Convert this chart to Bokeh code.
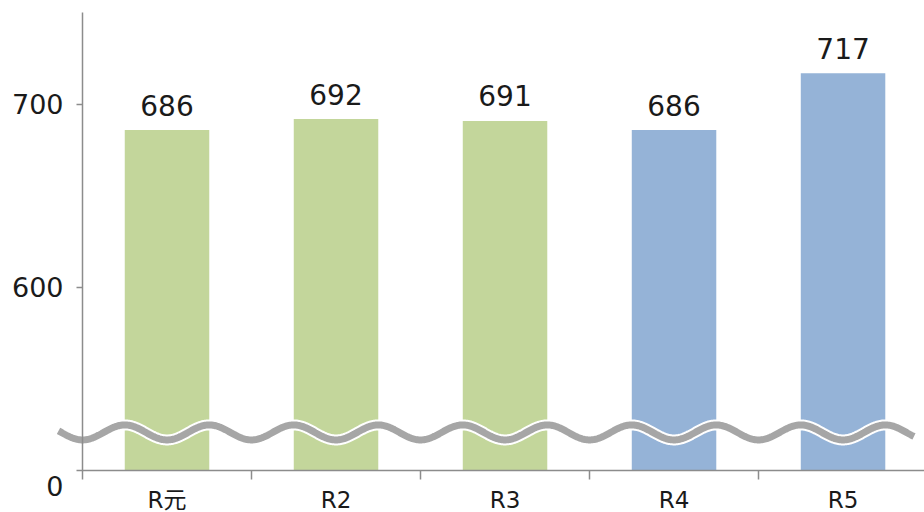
import numpy as np
from bokeh.plotting import figure
from bokeh.models import Range1d, FixedTicker, ColumnDataSource, LinearAxis
from bokeh.core.properties import value
from bokeh.embed import file_html
from bokeh.resources import INLINE

# ---- data ----
categories = ["R元", "R2", "R3", "R4", "R5"]
values = [686, 692, 691, 686, 717]
bar_colors = ["#c3d69b", "#c3d69b", "#c3d69b", "#95b3d7", "#95b3d7"]
y_ticks = [600, 700]
y_tick_labels = ["600", "700"]
axis_floor = 500          # the broken axis starts here; it is labelled "0"
axis_floor_label = "0"
y_axis_top = 750

centers = [i + 0.5 for i in range(len(categories))]
boundaries = list(range(len(categories) + 1))

FONT = "'DejaVu Sans', 'Noto Sans CJK JP', sans-serif"
AXIS_COLOR = "#8c8c8c"
TEXT_COLOR = "#1a1a1a"

# frame covers (almost) the whole canvas; axes sit at fixed data locations
p = figure(width=924, height=512, output_backend="svg", toolbar_location=None,
           x_range=Range1d(-0.4379, 4.982), y_range=Range1d(477.05, 756.8),
           x_axis_location=None, y_axis_location=None,
           min_border_left=8, min_border_right=0, min_border_top=0,
           min_border_bottom=0)
p.outline_line_color = None
p.xgrid.visible = False
p.ygrid.visible = False

# ---- x axis at y = axis_floor: ticks at category boundaries ----
xa = LinearAxis(fixed_location=axis_floor,
                ticker=FixedTicker(ticks=boundaries, minor_ticks=[]))
xa.major_label_text_font_size = "0px"
xa.major_label_text_color = None
xa.major_label_standoff = 0
xa.major_tick_line_color = AXIS_COLOR
xa.major_tick_line_width = 1.5
xa.major_tick_in = 0
xa.major_tick_out = 9
xa.minor_tick_line_color = None
xa.axis_line_color = AXIS_COLOR
xa.axis_line_width = 1.5
xa.bounds = (-0.036, 4.982)
p.add_layout(xa, "below")

# ---- y axis at x = 0 ----
ya = LinearAxis(fixed_location=0, ticker=FixedTicker(ticks=y_ticks, minor_ticks=[]))
ya.major_label_text_font_size = "0px"
ya.major_label_text_color = None
ya.major_label_standoff = 0
ya.major_tick_in = 0
ya.major_tick_out = 6
ya.major_tick_line_color = AXIS_COLOR
ya.major_tick_line_width = 1.5
ya.minor_tick_line_color = None
ya.axis_line_color = AXIS_COLOR
ya.axis_line_width = 1.5
ya.bounds = (axis_floor, y_axis_top)
p.add_layout(ya, "left")

# ---- bars ----
src = ColumnDataSource(dict(x=centers, top=values, color=bar_colors,
                            label=[str(v) for v in values], cat=categories,
                            floor=[axis_floor] * len(categories)))
p.vbar(x="x", top="top", bottom=axis_floor, width=0.5, fill_color="color",
       line_color=None, source=src)

# ---- axis-break wave ----
wave_center = 520.8
wave_amp = 4.1
wx = np.linspace(-0.142, 4.92, 900)
wy = wave_center - wave_amp * np.cos(4 * np.pi * wx)
p.line(wx, wy, line_width=11, line_color="white", line_cap="butt")
p.line(wx, wy, line_width=7, line_color="#a6a6a6", line_cap="butt")

# ---- texts ----
p.text(x="x", y="top", text="label", source=src, y_offset=-25,
       text_align="center", text_baseline="middle",
       text_font=value(FONT), text_font_size=value("28px"), text_color=TEXT_COLOR)
p.text(x="x", y="floor", text="cat", source=src, y_offset=30,
       text_align="center", text_baseline="middle",
       text_font=value(FONT), text_font_size=value("23px"), text_color=TEXT_COLOR)
ysrc = ColumnDataSource(dict(x=[0] * len(y_ticks), y=y_ticks, text=y_tick_labels))
p.text(x="x", y="y", text="text", source=ysrc, x_offset=-19,
       text_align="right", text_baseline="middle",
       text_font=value(FONT), text_font_size=value("27px"), text_color=TEXT_COLOR)
zsrc = ColumnDataSource(dict(x=[0], y=[axis_floor], text=[axis_floor_label]))
p.text(x="x", y="y", text="text", source=zsrc, x_offset=-19, y_offset=16,
       text_align="right", text_baseline="middle",
       text_font=value(FONT), text_font_size=value("27px"), text_color=TEXT_COLOR)

open("out.html", "w").write(file_html(p, INLINE))
